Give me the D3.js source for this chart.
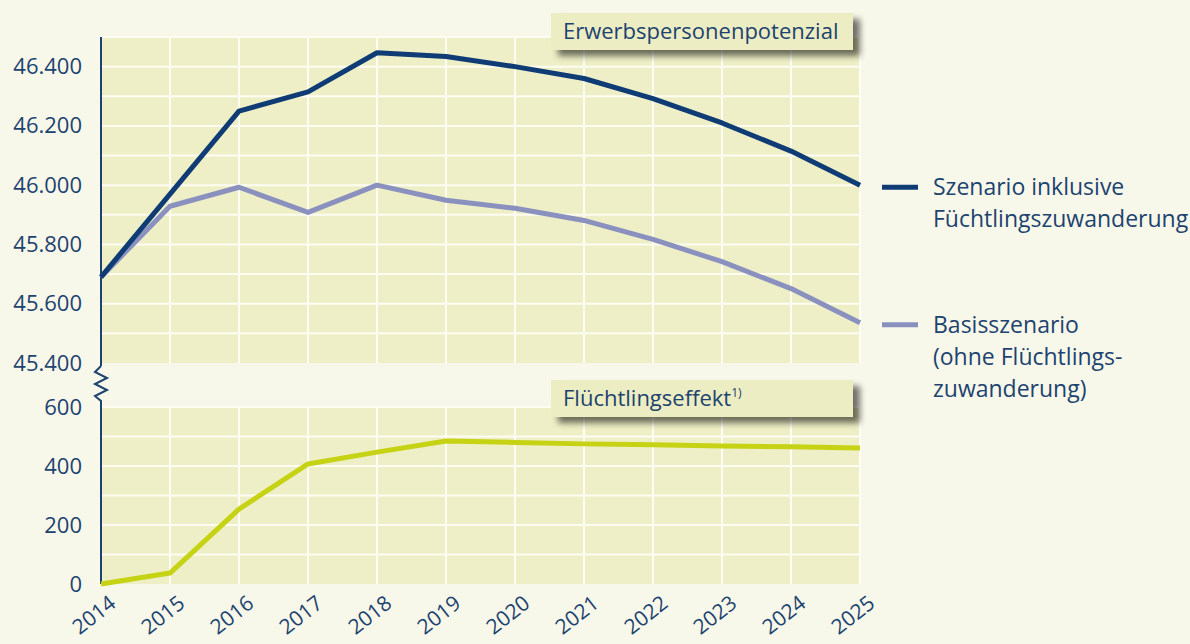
<!DOCTYPE html>
<html>
<head>
<meta charset="utf-8">
<script src="https://cdn.jsdelivr.net/npm/d3@7"></script>
<style>
  body { margin: 0; background: #f8f8ea; }
  svg text { font-family: "Open Sans", "Noto Sans", sans-serif; fill: #1d4370; }
</style>
</head>
<body>
<div id="chart"></div>
<script>
// data
const years = [2014, 2015, 2016, 2017, 2018, 2019, 2020, 2021, 2022, 2023, 2024, 2025]
const inklusive = [45690, 45970, 46250, 46315, 46447, 46434, 46400, 46360, 46292, 46210, 46115, 46000]
const basis = [45690, 45929, 45993, 45908, 46000, 45949, 45922, 45881, 45817, 45742, 45651, 45536]
const effekt = [0, 37, 254, 407, 447, 485, 480, 475, 472, 468, 465, 461]
const topTicks = [45400, 45600, 45800, 46000, 46200, 46400]
const bottomTicks = [0, 200, 400, 600]

const W = 1190, H = 644
const left = 101, right = 860
const de = d => d3.format(",")(d).replace(/,/g, ".")

const svg = d3.select("#chart").append("svg")
  .attr("width", W).attr("height", H)

const defs = svg.append("defs")
const f = defs.append("filter").attr("id", "shadow").attr("x", "-10%").attr("y", "-30%").attr("width", "130%").attr("height", "190%")
f.append("feGaussianBlur").attr("in", "SourceAlpha").attr("stdDeviation", 3)
f.append("feOffset").attr("dx", 7).attr("dy", 6).attr("result", "b")
f.append("feComponentTransfer").append("feFuncA").attr("type", "linear").attr("slope", 0.55)
const fm = f.append("feMerge")
fm.append("feMergeNode")
fm.append("feMergeNode").attr("in", "SourceGraphic")

svg.append("rect").attr("width", W).attr("height", H).attr("fill", "#f8f8ea")

const x = d3.scalePoint().domain(years).range([left, right])
const yTop = d3.scaleLinear().domain([45400, 46500]).range([363, 37])
const yBot = d3.scaleLinear().domain([0, 600]).range([584, 407])

// panels
function panel(y, lo, hi, step) {
  const g = svg.append("g")
  g.append("rect")
    .attr("x", left).attr("y", y(hi))
    .attr("width", right - left).attr("height", y(lo) - y(hi))
    .attr("fill", "#eeefc6")
  g.selectAll("line.h").data(d3.range(lo + step, hi + 0.1, step)).enter()
    .append("line")
    .attr("x1", left).attr("x2", right)
    .attr("y1", d => y(d)).attr("y2", d => y(d))
    .attr("stroke", "#fdfdf3").attr("stroke-width", 2)
  g.selectAll("line.v").data(years.slice(1)).enter()
    .append("line")
    .attr("x1", d => x(d)).attr("x2", d => x(d))
    .attr("y1", y(hi)).attr("y2", y(lo))
    .attr("stroke", "#fdfdf3").attr("stroke-width", 2)
}
panel(yTop, 45400, 46500, 100)
panel(yBot, 0, 600, 100)

// y axes
svg.append("g").attr("transform", "translate(" + left + ",0)")
  .call(d3.axisLeft(yTop).tickValues(topTicks).tickFormat(de).tickSize(0).tickPadding(19))
svg.append("g").attr("transform", "translate(" + left + ",0)")
  .call(d3.axisLeft(yBot).tickValues(bottomTicks).tickSize(0).tickPadding(19))
svg.selectAll(".domain").remove()
svg.selectAll(".tick text").style("font-size", "22px").attr("fill", "#1d4370")

// axis line with break
svg.append("line").attr("x1", left).attr("x2", left).attr("y1", 37).attr("y2", 366)
  .attr("stroke", "#1d4370").attr("stroke-width", 2)
svg.append("path")
  .attr("d", "M" + left + ",366 l-6,6 l12,6 l-12,6 l12,6 l-12,6 l6,5 L" + left + ",584")
  .attr("fill", "none").attr("stroke", "#1d4370").attr("stroke-width", 2)

// x labels
svg.append("g").selectAll("text").data(years).enter()
  .append("text")
  .attr("transform", d => "translate(" + (x(d) + 7) + ",594) rotate(-38)")
  .attr("text-anchor", "end")
  .attr("dy", "0.72em")
  .style("font-size", "21px")
  .text(d => d)

// lines
const lineTop = d3.line().x((d, i) => x(years[i])).y(d => yTop(d))
const lineBot = d3.line().x((d, i) => x(years[i])).y(d => yBot(d))
svg.append("path").datum(basis).attr("d", lineTop)
  .attr("fill", "none").attr("stroke", "#8a91bf").attr("stroke-width", 5).attr("stroke-linejoin", "round")
svg.append("path").datum(inklusive).attr("d", lineTop)
  .attr("fill", "none").attr("stroke", "#0f3c74").attr("stroke-width", 5).attr("stroke-linejoin", "round")
svg.append("path").datum(effekt).attr("d", lineBot)
  .attr("fill", "none").attr("stroke", "#c5d314").attr("stroke-width", 5).attr("stroke-linejoin", "round")

// title boxes
function titleBox(y, label, sup) {
  const g = svg.append("g")
  g.append("rect").attr("x", 551).attr("y", y).attr("width", 302).attr("height", 37)
    .attr("fill", "#ecedc2").attr("filter", "url(#shadow)")
  const t = g.append("text").attr("x", 563).attr("y", y + 26).style("font-size", "22px").text(label)
  if (sup) t.append("tspan").attr("dy", -9).style("font-size", "12px").text(sup)
}
titleBox(13, "Erwerbspersonenpotenzial")
titleBox(380, "Flüchtlingseffekt", "1)")

// legend
const legend = [
  {color: "#0f3c74", y: yTop(inklusive[11]), lines: ["Szenario inklusive", "Füchtlingszuwanderung"]},
  {color: "#8a91bf", y: yTop(basis[11]), lines: ["Basisszenario", "(ohne Flüchtlings-", "zuwanderung)"]}
]
legend.forEach(l => {
  svg.append("line").attr("x1", 882).attr("x2", 918).attr("y1", l.y + 2).attr("y2", l.y + 2)
    .attr("stroke", l.color).attr("stroke-width", 5)
  l.lines.forEach((s, i) => {
    svg.append("text").attr("x", 933).attr("y", l.y + 10 + i * 32)
      .style("font-size", "23px").text(s)
  })
})
</script>
</body>
</html>
